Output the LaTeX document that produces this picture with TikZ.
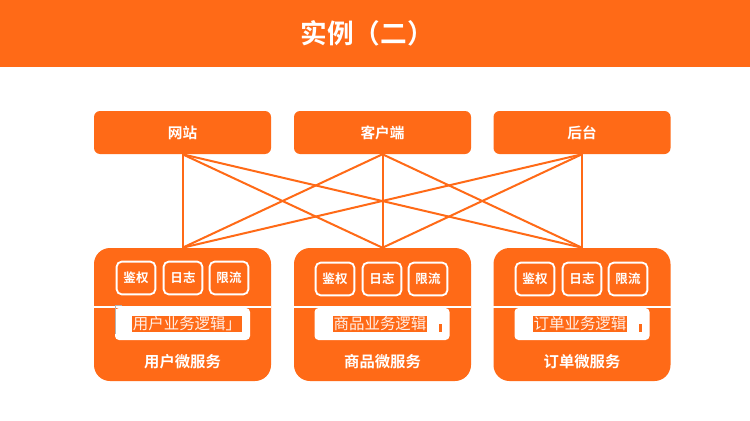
\documentclass[tikz,border=0pt]{standalone}
\usepackage{fontspec}
\newfontfamily\cjk[BoldFont={Noto Sans CJK SC Bold}]{Noto Sans CJK SC}
\definecolor{mango}{HTML}{FF6A17}

\begin{document}
\begin{tikzpicture}[x=0.75pt,y=-0.75pt,
    topbox/.style={fill=mango, rounded corners=4.5pt, minimum width=132.75pt,
        minimum height=32.25pt, text=white, font=\cjk\bfseries\fontsize{11}{13}\selectfont},
    svcbox/.style={fill=mango, rounded corners=12pt, minimum width=132.75pt,
        minimum height=99.75pt},
    toolbox/.style={draw=white, line width=1.4pt, rounded corners=3.75pt, minimum width=29pt,
        minimum height=24.5pt, inner sep=0pt, text=white, font=\cjk\bfseries\fontsize{9.4}{11}\selectfont},
    logicbox/.style={fill=white, rounded corners=3pt, minimum width=101.25pt, minimum height=24pt},
    logictext/.style={fill=mango, text=white!90!mango, inner sep=0.6pt,
        font=\cjk\fontsize{11.6}{13}\selectfont},
    svclabel/.style={text=white, font=\cjk\bfseries\fontsize{11.5}{13}\selectfont},
    link/.style={mango, line width=1.5pt}]
        \useasboundingbox[fill=white] (0,0) rectangle (750,421);
        \fill[mango] (0,0) rectangle (750,67);
        \node (title) at (367,33) [text=white, font=\cjk\bfseries\fontsize{20}{24}\selectfont] {实例（二）};

        % clients
        \node (web) at (182.5,132.5) [topbox] {网站};
        \node (app) at (382.5,132.5) [topbox] {客户端};
        \node (admin) at (582,132.5) [topbox] {后台};

        % services
        \node (user) at (182.5,314.5) [svcbox] {};
        \node (goods) at (382.5,314.5) [svcbox] {};
        \node (order) at (582,314.5) [svcbox] {};

        \draw [link] (web.south) to (user.north);
        \draw [link] (web.south) to (goods.north);
        \draw [link] (web.south) to (order.north);
        \draw [link] (app.south) to (user.north);
        \draw [link] (app.south) to (goods.north);
        \draw [link] (app.south) to (order.north);
        \draw [link] (admin.south) to (user.north);
        \draw [link] (admin.south) to (goods.north);
        \draw [link] (admin.south) to (order.north);

        \node (auth1) at (136,278) [toolbox] {鉴权};
        \node (log1) at (183,278) [toolbox] {日志};
        \node (limit1) at (229,278) [toolbox] {限流};
        \node (auth2) at (335,279) [toolbox] {鉴权};
        \node (log2) at (382,279) [toolbox] {日志};
        \node (limit2) at (428,279) [toolbox] {限流};
        \node (auth3) at (535,279) [toolbox] {鉴权};
        \node (log3) at (582,279) [toolbox] {日志};
        \node (limit3) at (628,279) [toolbox] {限流};

        \draw [white, line width=1.4pt] (user.west |- 0,307) to (user.east |- 0,307);
        \draw [white, line width=1.4pt] (goods.west |- 0,307) to (goods.east |- 0,307);
        \draw [white, line width=1.4pt] (order.west |- 0,307) to (order.east |- 0,307);

        \node (ulogic) at (182.5,324) [logicbox] {};
        \node (glogic) at (382,324) [logicbox] {};
        \node (ologic) at (582,324) [logicbox] {};
        \node (utext) at (187,324) [logictext] {用户业务逻辑」};
        \node (gtext) at (380,324) [logictext] {商品业务逻辑};
        \node (otext) at (580,324) [logictext] {订单业务逻辑};
        \draw [gray!60, line width=0.6pt] (122,305) to (115,305) to (115,334);
        \fill [mango] (439,324) rectangle (441.5,332);
        \fill [mango] (639,324) rectangle (641.5,332);

        \node (ulabel) at (182.5,362) [svclabel] {用户微服务};
        \node (glabel) at (382.5,362) [svclabel] {商品微服务};
        \node (olabel) at (582,362) [svclabel] {订单微服务};
\end{tikzpicture}
\end{document}
